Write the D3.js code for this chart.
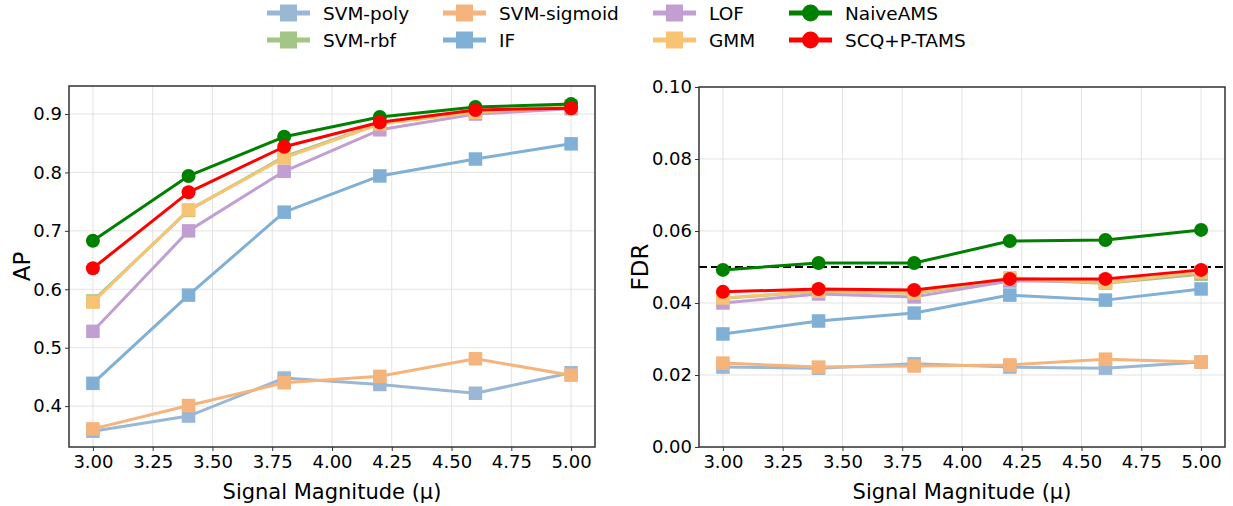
<!DOCTYPE html>
<html lang="en">
<head>
<meta charset="UTF-8">
<title>AP and FDR vs signal magnitude</title>
<script src="https://cdn.jsdelivr.net/npm/d3@7"></script>
<style>
body { margin: 0; background: #fff; font-family: "DejaVu Sans", sans-serif; }
.grid line { stroke: #dcdcdc; stroke-width: 0.8px; }
.tick text { font-size: 18px; fill: #000; }
</style>
</head>
<body>
<div id="chart"></div>
<script>
// x values (signal magnitude)
var mus = [3.0, 3.4, 3.8, 4.2, 4.6, 5.0];

var methods = ["SVM-poly", "SVM-rbf", "SVM-sigmoid", "IF", "LOF", "GMM", "NaiveAMS", "SCQ+P-TAMS"];
var colors  = ["#9bb7d6", "#a3c585", "#f5b47c", "#80b0d5", "#c29fd3", "#f8c473", "#008000", "#ff0000"];
var shapes  = ["square", "square", "square", "square", "square", "square", "circle", "circle"];

// AP per method
var apPoly    = [0.357, 0.383, 0.448, 0.437, 0.422, 0.457];
var apRbf     = [0.580, 0.735, 0.827, 0.884, 0.904, 0.914];
var apSigmoid = [0.361, 0.401, 0.440, 0.451, 0.481, 0.453];
var apIF      = [0.439, 0.590, 0.732, 0.794, 0.823, 0.849];
var apLOF     = [0.528, 0.700, 0.802, 0.873, 0.900, 0.909];
var apGMM     = [0.578, 0.736, 0.825, 0.883, 0.903, 0.913];
var apNaive   = [0.683, 0.794, 0.861, 0.895, 0.912, 0.917];
var apSCQ     = [0.636, 0.766, 0.844, 0.886, 0.907, 0.910];

// FDR per method
var fdrPoly    = [0.0222, 0.0219, 0.0231, 0.0222, 0.0219, 0.0236];
var fdrRbf     = [0.0413, 0.0432, 0.0427, 0.0465, 0.0455, 0.0480];
var fdrSigmoid = [0.0233, 0.0222, 0.0225, 0.0228, 0.0244, 0.0236];
var fdrIF      = [0.0314, 0.0350, 0.0372, 0.0422, 0.0408, 0.0439];
var fdrLOF     = [0.0400, 0.0425, 0.0417, 0.0461, 0.0461, 0.0483];
var fdrGMM     = [0.0414, 0.0433, 0.0428, 0.0470, 0.0456, 0.0486];
var fdrNaive   = [0.0492, 0.0511, 0.0511, 0.0572, 0.0575, 0.0603];
var fdrSCQ     = [0.0431, 0.0439, 0.0436, 0.0467, 0.0467, 0.0492];

var xTicks = [3.0, 3.25, 3.5, 3.75, 4.0, 4.25, 4.5, 4.75, 5.0];
var apTicks = [0.4, 0.5, 0.6, 0.7, 0.8, 0.9];
var fdrTicks = [0.0, 0.02, 0.04, 0.06, 0.08, 0.10];
var fdrTarget = 0.05;

var apSeries  = [apPoly, apRbf, apSigmoid, apIF, apLOF, apGMM, apNaive, apSCQ];
var fdrSeries = [fdrPoly, fdrRbf, fdrSigmoid, fdrIF, fdrLOF, fdrGMM, fdrNaive, fdrSCQ];

var W = 1233, H = 506;
var svg = d3.select("#chart").append("svg")
    .attr("width", W).attr("height", H)
    .style("font-family", "'DejaVu Sans', sans-serif");

function panel(opts) {
    var x = d3.scaleLinear().domain([2.9, 5.1]).range([opts.left, opts.right]);
    var y = d3.scaleLinear().domain(opts.yDomain).range([opts.bottom, opts.top]);
    var g = svg.append("g");

    // grid
    g.append("g").attr("class", "grid")
        .selectAll("line.v").data(xTicks).enter().append("line")
        .attr("x1", function(d) { return x(d); }).attr("x2", function(d) { return x(d); })
        .attr("y1", opts.top).attr("y2", opts.bottom);
    g.append("g").attr("class", "grid")
        .selectAll("line.h").data(opts.yTicks).enter().append("line")
        .attr("x1", opts.left).attr("x2", opts.right)
        .attr("y1", function(d) { return y(d); }).attr("y2", function(d) { return y(d); });

    if (opts.hline != null) {
        g.append("line")
            .attr("x1", opts.left).attr("x2", opts.right)
            .attr("y1", y(opts.hline)).attr("y2", y(opts.hline))
            .attr("stroke", "#000").attr("stroke-width", 2.2)
            .attr("stroke-dasharray", "8,4");
    }

    var line = d3.line()
        .x(function(d, i) { return x(mus[i]); })
        .y(function(d) { return y(d); });

    opts.series.forEach(function(vals, k) {
        var s = g.append("g");
        s.append("path").datum(vals)
            .attr("fill", "none").attr("stroke", colors[k])
            .attr("stroke-width", 3).attr("stroke-linejoin", "round")
            .attr("d", line);
        if (shapes[k] === "square") {
            s.selectAll("rect").data(vals).enter().append("rect")
                .attr("x", function(d, i) { return x(mus[i]) - 6.75; })
                .attr("y", function(d) { return y(d) - 6.75; })
                .attr("width", 13.5).attr("height", 13.5)
                .attr("fill", colors[k]);
        } else {
            s.selectAll("circle").data(vals).enter().append("circle")
                .attr("cx", function(d, i) { return x(mus[i]); })
                .attr("cy", function(d) { return y(d); })
                .attr("r", 7)
                .attr("fill", colors[k]);
        }
    });

    // axes
    var xa = g.append("g").attr("transform", "translate(0," + opts.bottom + ")")
        .call(d3.axisBottom(x).tickValues(xTicks).tickFormat(d3.format(".2f")).tickSize(4).tickPadding(4));
    var ya = g.append("g").attr("transform", "translate(" + opts.left + ",0)")
        .call(d3.axisLeft(y).tickValues(opts.yTicks).tickFormat(d3.format(opts.yFormat)).tickSize(4).tickPadding(3));
    [xa, ya].forEach(function(a) {
        a.select(".domain").remove();
        a.selectAll(".tick line").attr("stroke", "#333").attr("stroke-width", 1);
        a.selectAll(".tick text").style("font-family", "'DejaVu Sans', sans-serif");
    });

    g.append("rect")
        .attr("x", opts.left).attr("y", opts.top)
        .attr("width", opts.right - opts.left).attr("height", opts.bottom - opts.top)
        .attr("fill", "none").attr("stroke", "#333").attr("stroke-width", 1.5);

    g.append("text")
        .attr("x", (opts.left + opts.right) / 2).attr("y", 499)
        .attr("text-anchor", "middle").style("font-size", "21px")
        .text("Signal Magnitude (\u03bc)");
    g.append("text")
        .attr("transform", "translate(" + opts.ylabelX + "," + ((opts.top + opts.bottom) / 2) + ") rotate(-90)")
        .attr("text-anchor", "middle").style("font-size", "23px")
        .text(opts.ylabel);
}

panel({ left: 69, right: 595, top: 86, bottom: 447, yDomain: [0.330, 0.948],
        yTicks: apTicks, yFormat: ".1f", series: apSeries, ylabel: "AP", ylabelX: 30 });
panel({ left: 699, right: 1225, top: 87, bottom: 447, yDomain: [0, 0.1],
        yTicks: fdrTicks, yFormat: ".2f", series: fdrSeries, ylabel: "FDR", ylabelX: 648,
        hline: fdrTarget });

// legend, 4 columns x 2 rows, column-major
var legX = [267, 443, 653, 789];
var legY = [13, 40];
var leg = svg.append("g");
methods.forEach(function(m, k) {
    var col = Math.floor(k / 2), row = k % 2;
    var lx = legX[col], ly = legY[row];
    leg.append("line").attr("x1", lx).attr("x2", lx + 43)
        .attr("y1", ly).attr("y2", ly)
        .attr("stroke", colors[k]).attr("stroke-width", 5);
    if (shapes[k] === "square") {
        leg.append("rect").attr("x", lx + 13).attr("y", ly - 8.5)
            .attr("width", 17).attr("height", 17).attr("fill", colors[k]);
    } else {
        leg.append("circle").attr("cx", lx + 21.5).attr("cy", ly).attr("r", 8.5).attr("fill", colors[k]);
    }
    leg.append("text").attr("x", lx + 56).attr("y", ly + 6.5)
        .style("font-size", "18.5px").text(m);
});
</script>
</body>
</html>
